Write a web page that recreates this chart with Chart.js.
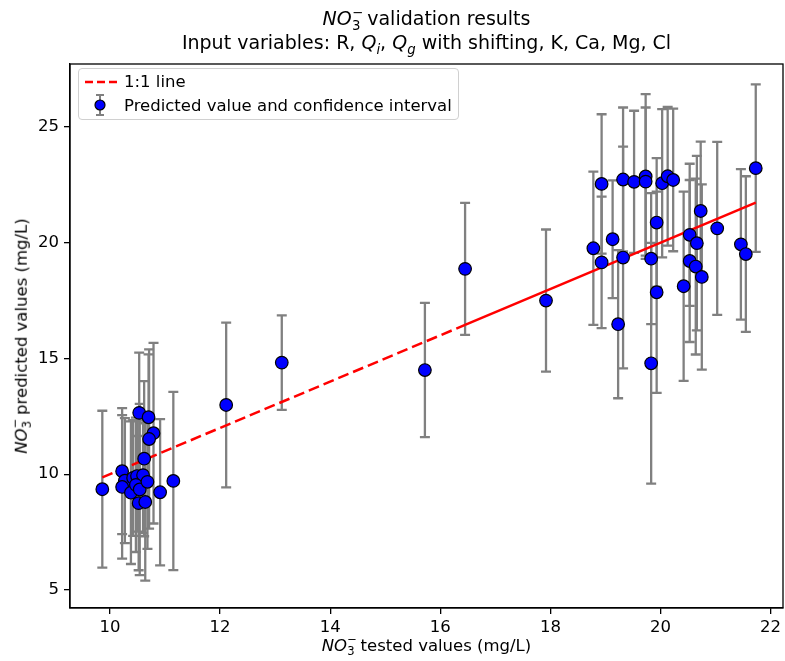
<!DOCTYPE html>
<html>
<head>
<meta charset="utf-8">
<title>NO3 validation results</title>
<script src="https://cdn.jsdelivr.net/npm/chart.js@4.4.1/dist/chart.umd.min.js"></script>
<style>
  body { margin: 0; background: #fff; }
  #wrap { position: relative; width: 785px; height: 661px; font-family: "DejaVu Sans", sans-serif; color: #000; }
  #chart { position: absolute; left: 0; top: 0; }
  .txt { position: absolute; white-space: nowrap; line-height: 1; }
  .it { font-style: italic; }
  .ss { position: relative; display: inline-block; width: 0.5em; height: 0; }
  .ss span { position: absolute; left: 0.02em; font-size: 70%; line-height: 1; }
  .ss .sp { top: -1.45em; }
  .ss .sb { top: -0.45em; }
  .sub { font-size: 70%; font-style: italic; vertical-align: -0.36em; line-height: 0; }
  #legend { position: absolute; left: 78px; top: 68px; width: 379px; height: 50px; border: 1px solid #d0d0d0; border-radius: 4px; background: rgba(255,255,255,0.8); font-size: 16.5px; }
  #legend svg { position: absolute; }
  #legend .lt { position: absolute; left: 45px; white-space: nowrap; line-height: 1; }
</style>
</head>
<body>
<div id="wrap">
  <canvas id="chart" width="785" height="661"></canvas>
  <div class="txt" style="left:70px;width:713px;text-align:center;top:9px;font-size:19px"><span class="it">NO</span><span class="ss"><span class="sp">−</span><span class="sb">3</span></span> validation results</div>
  <div class="txt" style="left:70px;width:713px;text-align:center;top:33px;font-size:19px">Input variables: R, <span class="it">Q</span><span class="sub">i</span>, <span class="it">Q</span><span class="sub">g</span> with shifting, K, Ca, Mg, Cl</div>
  <div class="txt" style="left:70px;width:713px;text-align:center;top:638px;font-size:16.5px"><span class="it">NO</span><span class="ss"><span class="sp">−</span><span class="sb">3</span></span> tested values (mg/L)</div>
  <div class="txt" style="left:22px;top:336px;font-size:16.5px;transform:translate(-50%,-50%) rotate(-90deg)"><span class="it">NO</span><span class="ss"><span class="sp">−</span><span class="sb">3</span></span> predicted values (mg/L)</div>
  <div id="legend">
    <svg style="left:5px;top:6px" width="34" height="14"><line x1="1" y1="7" x2="33" y2="7" stroke="#ff0000" stroke-width="2.5" stroke-dasharray="8,4"/></svg>
    <div class="lt" style="top:5px">1:1 line</div>
    <svg style="left:13px;top:24px" width="16" height="24">
      <line x1="8" y1="2" x2="8" y2="22" stroke="#808080" stroke-width="2"/>
      <line x1="4" y1="2" x2="12" y2="2" stroke="#808080" stroke-width="2"/>
      <line x1="4" y1="22" x2="12" y2="22" stroke="#808080" stroke-width="2"/>
      <circle cx="8" cy="12" r="5" fill="#0000ff" stroke="#000" stroke-width="1.2"/>
    </svg>
    <div class="lt" style="top:29px">Predicted value and confidence interval</div>
  </div>
</div>
<script>
// NO3- tested values (x), predicted values (y) and half width of the confidence interval
var testedValues = [
  9.86, 10.22, 10.27, 10.22, 10.38, 10.42, 10.49, 10.60, 10.47, 10.54,
  10.68, 10.52, 10.64, 10.62, 10.53, 10.70, 10.79, 10.71, 10.91, 11.15,
  12.11, 13.12, 15.72, 16.45, 17.92,
  18.78, 18.93, 18.93, 19.13, 19.23, 19.32, 19.32, 19.52, 19.73, 19.73,
  19.83, 19.93, 19.93, 19.83, 20.03, 20.13, 20.23, 20.53, 20.66, 20.73,
  20.53, 20.64, 20.75, 20.42, 21.03, 21.46, 21.55, 21.73
];
var predictedValues = [
  9.35, 10.13, 9.72, 9.45, 9.20, 9.84, 9.92, 9.96, 9.54, 9.34,
  9.67, 8.75, 8.80, 10.67, 12.65, 12.46, 11.77, 11.52, 9.22, 9.71,
  12.99, 14.82, 14.50, 18.87, 17.50,
  19.76, 22.54, 19.15, 20.15, 16.48, 22.73, 19.36, 22.63, 22.86, 22.64,
  19.31, 20.87, 17.86, 14.79, 22.57, 22.87, 22.71, 20.34, 19.98, 21.37,
  19.21, 18.97, 18.52, 18.12, 20.62, 19.93, 19.51, 23.22
];
var errorValues = [
  3.39, 2.72, 2.70, 3.10, 3.08, 2.50, 2.40, 2.50, 2.90, 3.70,
  2.90, 2.90, 3.40, 3.35, 2.60, 2.72, 3.90, 3.87, 3.16, 3.85,
  3.56, 2.04, 2.90, 2.85, 3.07,
  3.31, 3.01, 2.84, 2.54, 3.20, 3.11, 4.79, 3.07, 3.56, 3.20,
  2.83, 2.78, 4.35, 5.20, 3.20, 3.00, 3.08, 3.07, 3.77, 3.00,
  3.50, 3.80, 4.00, 4.09, 3.74, 3.25, 3.36, 3.62
];
var xTicks = [10, 12, 14, 16, 18, 20, 22];
var yTicks = [5, 10, 15, 20, 25];
var xMin = 9.273, xMax = 22.225;
var yMin = 4.22, yMax = 27.72;
var lineSolidFrom = 16.45; // the 1:1 line looks solid from here on

var lineX = [Math.min.apply(null, testedValues), lineSolidFrom, Math.max.apply(null, testedValues)];

var errorBars = {
  id: 'errorBars',
  beforeDatasetsDraw: function(chart) {
    var ctx = chart.ctx, x = chart.scales.x, y = chart.scales.y;
    var a = chart.chartArea;
    ctx.save();
    ctx.beginPath();
    ctx.rect(a.left, a.top, a.right - a.left, a.bottom - a.top);
    ctx.clip();
    ctx.strokeStyle = '#808080';
    ctx.lineWidth = 2.3;
    for (var i = 0; i < testedValues.length; i++) {
      var px = x.getPixelForValue(testedValues[i]);
      var top = y.getPixelForValue(predictedValues[i] + errorValues[i]);
      var bot = y.getPixelForValue(predictedValues[i] - errorValues[i]);
      ctx.beginPath();
      ctx.moveTo(px, top); ctx.lineTo(px, bot);
      ctx.moveTo(px - 5, top); ctx.lineTo(px + 5, top);
      ctx.moveTo(px - 5, bot); ctx.lineTo(px + 5, bot);
      ctx.stroke();
    }
    ctx.restore();
  },
  afterDatasetsDraw: function(chart) {
    var ctx = chart.ctx, a = chart.chartArea;
    ctx.save();
    ctx.strokeStyle = '#000';
    ctx.lineWidth = 1.3;
    ctx.strokeRect(a.left, a.top, a.right - a.left, a.bottom - a.top);
    ctx.restore();
  }
};

var tickFont = { family: 'DejaVu Sans', size: 16.5 };

var chart = new Chart(document.getElementById('chart'), {
  type: 'scatter',
  data: {
    datasets: [
      {
        type: 'scatter',
        label: 'Predicted value and confidence interval',
        data: testedValues.map(function(v, i) { return { x: v, y: predictedValues[i] }; }),
        backgroundColor: '#0000ff',
        borderColor: '#000000',
        borderWidth: 1.2,
        pointRadius: 6.3,
        order: 0
      },
      {
        type: 'line',
        label: '1:1 line',
        data: lineX.map(function(v) { return { x: v, y: v }; }),
        borderColor: '#ff0000',
        borderWidth: 2.5,
        borderDash: [11, 5],
        pointRadius: 0,
        fill: false,
        segment: {
          borderDash: function(c) { return c.p0.parsed.x >= lineSolidFrom ? [] : undefined; }
        },
        order: 1
      }
    ]
  },
  options: {
    responsive: false,
    animation: false,
    layout: { autoPadding: false, padding: { top: 64, right: 2, left: 0, bottom: 0 } },
    plugins: { legend: { display: false }, title: { display: false }, tooltip: { enabled: false } },
    scales: {
      x: {
        type: 'linear',
        min: xMin,
        max: xMax,
        afterBuildTicks: function(s) { s.ticks = xTicks.map(function(v) { return { value: v }; }); },
        afterFit: function(s) { s.height = 53; s.paddingLeft = 0; s.paddingRight = 0; },
        grid: { drawOnChartArea: false, drawTicks: true, tickLength: 6, color: '#000', lineWidth: 1.3 },
        border: { display: true, color: '#000', width: 1.3 },
        ticks: { color: '#000', font: tickFont, padding: 4, maxRotation: 0 }
      },
      y: {
        type: 'linear',
        min: yMin,
        max: yMax,
        afterBuildTicks: function(s) { s.ticks = yTicks.map(function(v) { return { value: v }; }); },
        afterFit: function(s) { s.width = 70; s.paddingTop = 0; s.paddingBottom = 0; },
        grid: { drawOnChartArea: false, drawTicks: true, tickLength: 6, color: '#000', lineWidth: 1.3 },
        border: { display: true, color: '#000', width: 1.3 },
        ticks: { color: '#000', font: tickFont, padding: 5 }
      }
    }
  },
  plugins: [errorBars]
});
</script>
</body>
</html>
